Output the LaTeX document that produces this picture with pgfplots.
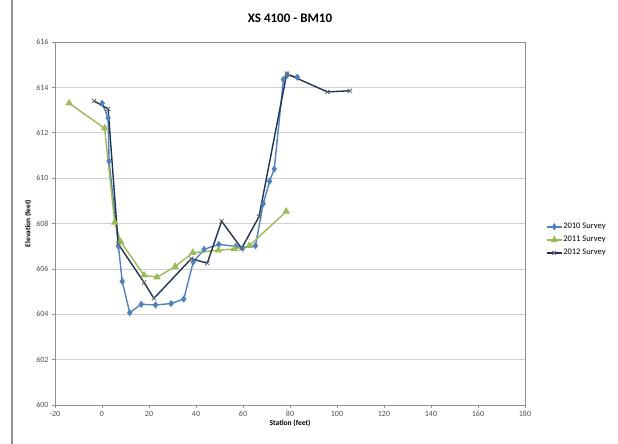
\documentclass[border=0pt]{standalone}
\usepackage{pgfplots}
\pgfplotsset{compat=1.18}
\usepackage{fontspec}
\setmainfont{Carlito}
\definecolor{s10}{HTML}{4F81BD}
\definecolor{s11}{HTML}{9BBB59}
\definecolor{s12}{HTML}{1F3350}
\definecolor{gridc}{HTML}{D0D0D0}
\definecolor{axc}{HTML}{909090}
\definecolor{tickc}{HTML}{505050}
\begin{document}
\begin{tikzpicture}
\begin{axis}[
  name=ax, at={(0pt,0pt)}, anchor=south west,
  scale only axis, width=470pt, height=363pt,
  xmin=-20, xmax=180, ymin=600, ymax=616,
  xtick={-20,0,...,180}, ytick={600,602,...,616},
  ymajorgrids, grid style={gridc, line width=0.6pt},
  axis line style={axc, line width=0.6pt},
  tick style={axc, line width=0.5pt},
  tick align=outside, major tick length=3pt,
  xtick pos=bottom, ytick pos=left,
  /pgf/number format/assume math mode=true,
  /pgf/number format/1000 sep={},
  tick label style={font=\fontsize{8}{9}\selectfont, text=tickc},
  title={\bfseries XS 4100 - BM10},
  title style={font=\fontsize{13}{15}\selectfont, at={(0.5,1)}, yshift=10pt},
  xlabel={\bfseries Station (feet)},
  ylabel={\bfseries Elevation (feet)},
  xlabel style={font=\fontsize{7.5}{9}\selectfont, yshift=4pt},
  ylabel style={font=\fontsize{7.5}{9}\selectfont, yshift=-2pt},
  legend style={at={(1.045,0.455)}, anchor=west, draw=none, fill=none,
    font=\fontsize{8.5}{10}\selectfont, row sep=4pt, inner sep=0pt,
    nodes={inner sep=1pt}},
  legend cell align=left,
  legend image post style={xscale=0.85},
  every axis plot/.append style={line width=1.4pt},
]
\addplot[s10, mark=diamond*, mark size=2.5pt, mark options={solid}] coordinates {
(0.1,613.3)(2.6,612.65)(3.0,610.75)(7.0,607.0)(8.6,605.45)(11.8,604.07)(16.7,604.44)
(22.8,604.41)(29.4,604.47)(34.8,604.67)(38.8,606.3)(43.4,606.86)(49.7,607.08)
(56.9,606.99)(59.8,606.92)(65.3,607.02)(68.6,608.87)(71.3,609.86)(73.3,610.4)
(77.2,614.35)(78.9,614.55)(83.1,614.45)
};
\addlegendentry{2010 Survey}
\addplot[s11, mark=triangle*, mark size=3pt, mark options={solid}] coordinates {
(-14,613.3)(1.1,612.2)(5.4,608.05)(7.9,607.2)(17.9,605.72)(23.4,605.63)(31.1,606.1)
(38.6,606.71)(49.5,606.82)(56.4,606.88)(62.7,607.02)(78.4,608.53)
};
\addlegendentry{2011 Survey}
\addplot[s12, mark=x, mark size=3pt, mark options={solid, line width=0.8pt, black!60}] coordinates {
(-3.4,613.4)(2.6,613.05)(6.9,607.1)(17.9,605.4)(22.1,604.7)(38.0,606.45)(44.8,606.25)
(50.9,608.1)(59.4,606.9)(66.8,608.3)(78.6,614.6)(95.9,613.8)(105.5,613.85)
};
\addlegendentry{2012 Survey}
\end{axis}
\fill[axc] (-43.6pt,-39pt) rectangle (-42.4pt,405pt);
\pgfresetboundingbox
\path[use as bounding box] (-55pt,-39pt) rectangle (563pt,405pt);
\end{tikzpicture}
\end{document}
